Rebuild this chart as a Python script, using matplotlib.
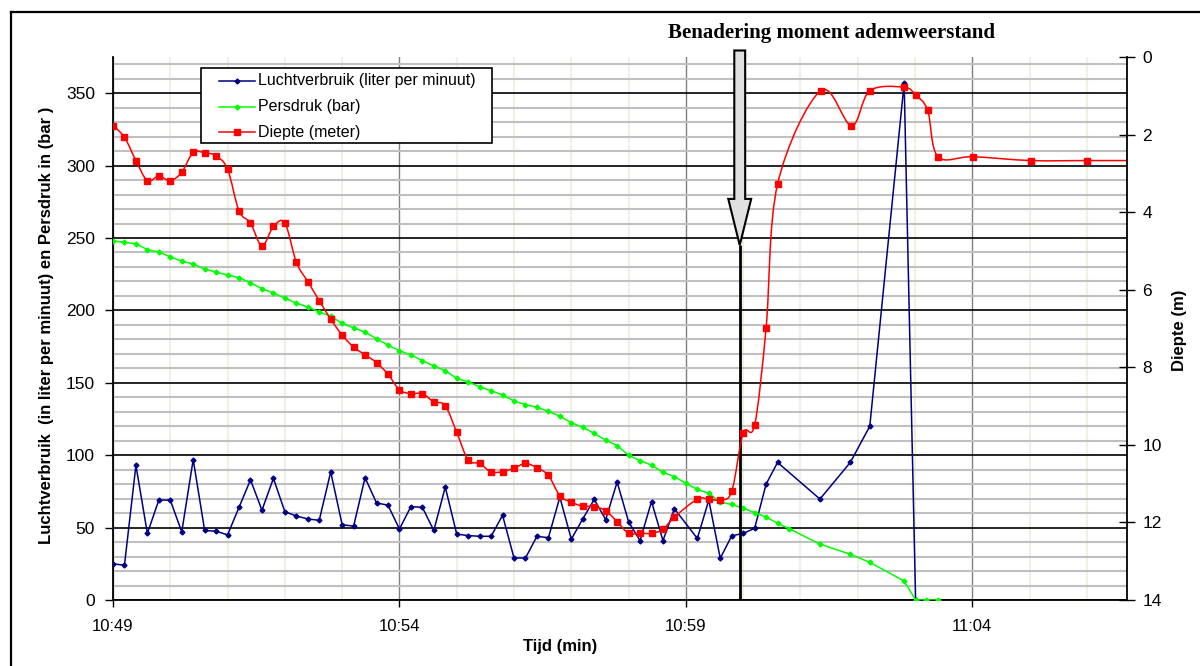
import numpy as np
import matplotlib
matplotlib.use("Agg")
import matplotlib.pyplot as plt
import matplotlib.patches as mpatches
from matplotlib.path import Path
from matplotlib.lines import Line2D

# tijd in minuten na 10:49
t_lucht = [0.0, 0.2, 0.4, 0.6, 0.8, 1.0, 1.2, 1.4, 1.6, 1.8, 2.0, 2.2, 2.4, 2.6, 2.8,
           3.0, 3.2, 3.4, 3.6, 3.8, 4.0, 4.2, 4.4, 4.6, 4.8, 5.0, 5.2, 5.4, 5.6, 5.8,
           6.0, 6.2, 6.4, 6.6, 6.8, 7.0, 7.2, 7.4, 7.6, 7.8, 8.0, 8.2, 8.4, 8.6, 8.8,
           9.0, 9.2, 9.4, 9.6, 9.8, 10.2, 10.4, 10.6, 10.8, 11.0, 11.2, 11.4, 11.6,
           12.34, 12.87, 13.21, 13.81, 14.01]
luchtverbruik = [25, 24, 93, 46, 69, 69, 47, 97, 48, 47.5, 45, 64, 83, 62, 84,
                 61, 58, 56, 55, 88.5, 52, 51, 84.5, 67, 65.5, 49, 64.5, 64, 48, 78,
                 45.5, 44.5, 44, 44, 58.5, 29, 29, 44, 43, 71, 42, 56, 69.5, 55.5, 81.5,
                 54, 41, 68, 41, 63, 42.5, 69, 28.8, 44.3, 46, 49.5, 80, 95,
                 69.7, 95, 120, 357, 0]

t_pers = [0.0, 0.2, 0.4, 0.6, 0.8, 1.0, 1.2, 1.4, 1.6, 1.8, 2.0, 2.2, 2.4, 2.6, 2.8,
          3.0, 3.2, 3.4, 3.6, 3.8, 4.0, 4.2, 4.4, 4.6, 4.8, 5.0, 5.2, 5.4, 5.6, 5.8,
          6.0, 6.2, 6.4, 6.6, 6.8, 7.0, 7.2, 7.4, 7.6, 7.8, 8.0, 8.2, 8.4, 8.6, 8.8,
          9.0, 9.2, 9.4, 9.6, 9.8, 10.0, 10.2, 10.4, 10.6, 10.8, 11.0, 11.2, 11.4,
          11.6, 11.8, 12.34, 12.87, 13.21, 13.81, 14.01, 14.2, 14.4]
persdruk = [248, 247, 246, 242, 240.3, 237, 234, 232, 228.5, 226.5, 224.4, 222.6, 219, 215, 212,
            208.5, 205, 202.3, 199, 196, 191, 188, 185, 180.5, 176, 172.2, 169.2, 165.3, 161.6, 158.4,
            153, 150.6, 147.3, 144.5, 141.6, 137.4, 135, 133, 130.3, 127, 122.4, 119.3, 115, 110.5, 106.6,
            100, 96.2, 93.2, 88.2, 85.2, 80.6, 76.4, 73.7, 67.6, 66, 63.4, 60.3, 57.3,
            53, 49.3, 38.6, 31.6, 26, 13.1, 0, 0, 0]

t_diepte = [0.0, 0.2, 0.4, 0.6, 0.8, 1.0, 1.2, 1.4, 1.6, 1.8, 2.0, 2.2, 2.4, 2.6, 2.8,
            3.0, 3.2, 3.4, 3.6, 3.8, 4.0, 4.2, 4.4, 4.6, 4.8, 5.0, 5.2, 5.4, 5.6, 5.8,
            6.0, 6.2, 6.4, 6.6, 6.8, 7.0, 7.2, 7.4, 7.6, 7.8, 8.0, 8.2, 8.4, 8.6, 8.8,
            9.0, 9.2, 9.4, 9.6, 9.8, 10.2, 10.4, 10.6, 10.8, 11.0, 11.2, 11.4, 11.6,
            12.35, 12.89, 13.21, 13.81, 14.01, 14.22, 14.4, 15.01, 16.02, 17.01, 18.0]
diepte = [1.77, 2.07, 2.67, 3.19, 3.07, 3.19, 2.97, 2.46, 2.47, 2.55, 2.89, 3.97, 4.28, 4.87, 4.37,
          4.28, 5.29, 5.79, 6.28, 6.76, 7.17, 7.48, 7.68, 7.88, 8.18, 8.58, 8.68, 8.68, 8.89, 8.99,
          9.68, 10.39, 10.48, 10.70, 10.69, 10.60, 10.48, 10.59, 10.79, 11.31, 11.48, 11.58, 11.59, 11.70, 11.98,
          12.28, 12.28, 12.28, 12.18, 11.86, 11.40, 11.40, 11.42, 11.20, 9.70, 9.49, 6.99, 3.28,
          0.87, 1.77, 0.87, 0.78, 0.98, 1.37, 2.57, 2.57, 2.67, 2.67, 2.67]

namen = ["Luchtverbruik (liter per minuut)", "Persdruk (bar)", "Diepte (meter)"]
kleuren = ["#000080", "#00FF00", "#FF0000"]
xtick_pos = [0, 5, 10, 15]
xtick_labels = ["10:49", "10:54", "10:59", "11:04"]

# moment ademweerstand (annotatie)
t_adem = 10.94
pijl_punt = 245.0

plt.rcParams['font.family'] = ['Liberation Sans', 'DejaVu Sans']


def excel_smooth(xs, ys):
    # smooth lijn zoals excel (catmull-rom als bezier)
    pts = np.column_stack([xs, ys]).astype(float)
    n = len(pts)
    verts = [pts[0]]
    codes = [Path.MOVETO]
    for i in range(n - 1):
        p0 = pts[i - 1] if i > 0 else pts[i]
        p1 = pts[i]
        p2 = pts[i + 1]
        p3 = pts[i + 2] if i + 2 < n else pts[i + 1]
        verts += [p1 + (p2 - p0) / 6.0, p2 - (p3 - p1) / 6.0, p2]
        codes += [Path.CURVE4] * 3
    return Path(verts, codes)


fig = plt.figure(figsize=(12, 6.66), dpi=100)
ax = fig.add_axes([113 / 1200, 1 - 600 / 666, 1014 / 1200, 543 / 666])
ax2 = ax.twinx()

ax.set_xlim(0, 17.7)
ax.set_ylim(0, 375)
ax2.set_ylim(14, 0)

ax.set_xticks(xtick_pos, labels=xtick_labels)
ax.set_xticks(np.arange(0, 18, 1), minor=True)
ax.set_yticks(np.arange(0, 351, 50))
ax.set_yticks(np.arange(0, 371, 10), minor=True)
ax2.set_yticks(np.arange(0, 15, 2))

ax.set_axisbelow(True)
ax.xaxis.grid(True, which='major', color='#808080', lw=1.0)
ax.xaxis.grid(True, which='minor', color='#F0F0E6', lw=1.5)
ax.yaxis.grid(True, which='minor', color='#C0C0C0', lw=1.5)
ax.yaxis.grid(True, which='major', color='black', lw=1.2)

ax.tick_params(axis='x', which='major', direction='out', length=5, width=1, pad=9, labelsize=12)
ax.tick_params(axis='y', which='major', direction='out', length=6, width=1, pad=7, labelsize=12.5)
ax.tick_params(which='minor', length=0)
ax2.tick_params(axis='y', direction='inout', length=12, width=1, pad=5, labelsize=12.5)

for s in ['top', 'right']:
    ax.spines[s].set_visible(False)
for s in ['top', 'left', 'bottom']:
    ax2.spines[s].set_visible(False)
ax.spines['left'].set_linewidth(1.3)
ax.spines['bottom'].set_linewidth(1.3)
ax2.spines['right'].set_linewidth(1.3)

# series
ax.plot(t_lucht, luchtverbruik, color=kleuren[0], lw=1.1, marker='D', ms=2.5, zorder=3)
ax.plot(t_pers, persdruk, color=kleuren[1], lw=1.1, marker='D', ms=2.5, zorder=3)
ax2.add_patch(mpatches.PathPatch(excel_smooth(t_diepte, diepte), fill=False,
                                 edgecolor=kleuren[2], lw=1.1))
ax2.plot(t_diepte, diepte, ls='none', color=kleuren[2], marker='s', ms=3.8)

# lijn en pijl voor ademweerstand
ax.vlines([t_adem], 0, pijl_punt, colors='black', lw=2, zorder=4)
pijl = mpatches.FancyArrow(t_adem, 379.5, 0, pijl_punt - 379.5, width=0.19,
                           head_width=0.40, head_length=32, length_includes_head=True,
                           facecolor='#E0E0E0', edgecolor='black', lw=1.5,
                           clip_on=False, zorder=5)
ax.add_patch(pijl)
fig.text(832 / 1200, 1 - 33 / 666, "Benadering moment ademweerstand", ha='center', va='center',
         family='Liberation Serif', weight='bold', fontsize=15)

# labels
ax.set_xlabel("Tijd (min)", fontsize=12, weight='bold')
ax.xaxis.set_label_coords(0.441, -0.072)
ax.set_ylabel("Luchtverbruik  (in liter per minuut) en Persdruk in (bar )", fontsize=12, weight='bold')
ax.yaxis.set_label_coords(-0.058, 0.505)
ax2.set_ylabel("Diepte (m)", fontsize=12, weight='bold')
ax2.yaxis.set_label_coords(1.044, 0.497)

# legenda (handmatig, excel stijl)
lx0, ly0, lx1, ly1 = 201, 68, 492, 143
fig.add_artist(mpatches.Rectangle((lx0 / 1200, 1 - ly1 / 666), (lx1 - lx0) / 1200, (ly1 - ly0) / 666,
                                  transform=fig.transFigure, facecolor='white',
                                  edgecolor='black', lw=1.2, zorder=10))
markers = ['D', 'D', 's']
msizes = [2.5, 2.5, 3.8]
for i, naam in enumerate(namen):
    yy = 1 - (81 + i * 25.5) / 666
    fig.add_artist(Line2D([219 / 1200, 255 / 1200], [yy, yy], transform=fig.transFigure,
                          color=kleuren[i], lw=1.1, zorder=11))
    fig.add_artist(Line2D([237 / 1200], [yy], transform=fig.transFigure, ls='none',
                          color=kleuren[i], marker=markers[i], ms=msizes[i], zorder=11))
    fig.text(258 / 1200, yy, naam, ha='left', va='center', fontsize=11.5, zorder=12)

# rand van de grafiek
fig.add_artist(Line2D([11 / 1200, 11 / 1200], [0, 1 - 12 / 666], transform=fig.transFigure,
                      color='black', lw=1.6))
fig.add_artist(Line2D([11 / 1200, 1], [1 - 12 / 666, 1 - 12 / 666], transform=fig.transFigure,
                      color='black', lw=1.6))

fig.savefig("out.png", dpi=100)
